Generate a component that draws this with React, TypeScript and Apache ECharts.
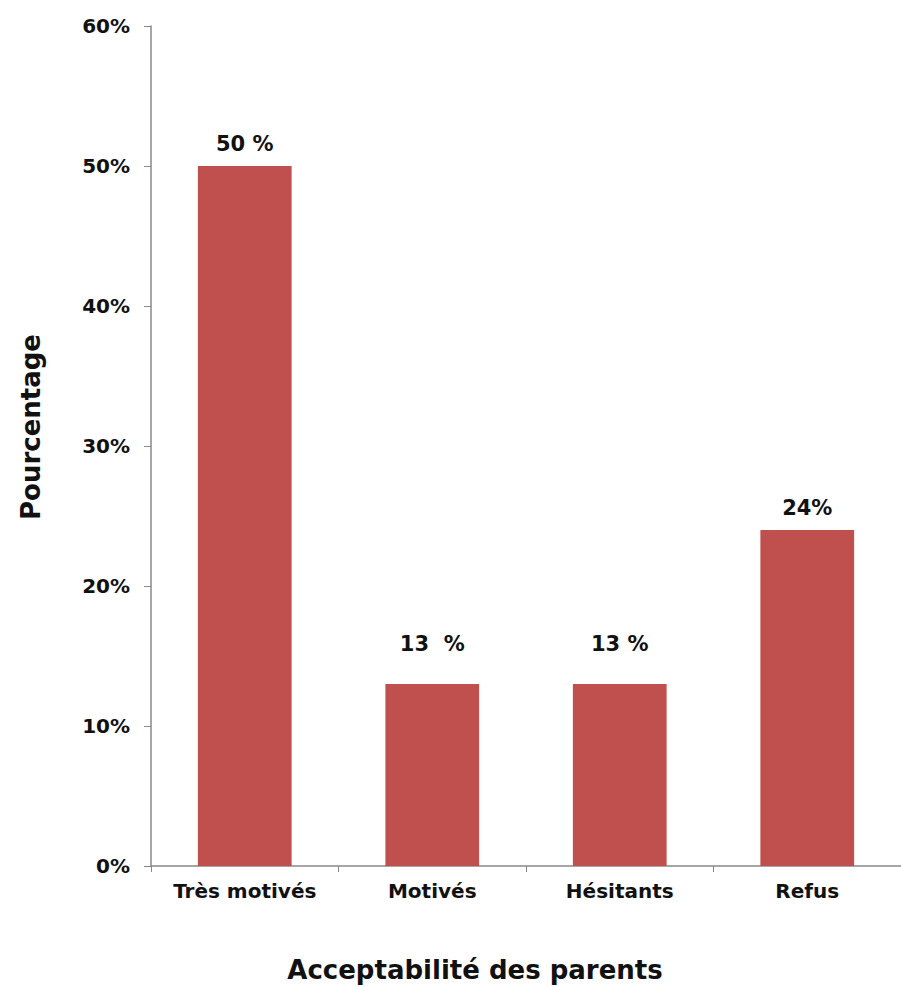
import React, { useEffect, useRef } from "react";
import * as echarts from "echarts";

const categories = ["Très motivés", "Motivés", "Hésitants", "Refus"];
const values = [50, 13, 13, 24];
const valueLabels = ["50 %", "13  %", "13 %", "24%"];
const labelOffsets = [0, -18, -18, 0];
const yTicks = { min: 0, max: 60, interval: 10 };
const xTitle = "Acceptabilité des parents";
const yTitle = "Pourcentage";

const FONT = "DejaVu Sans";

export default function App() {
  const ref = useRef<HTMLDivElement>(null);
  useEffect(() => {
    if (!ref.current) return;
    const chart = echarts.init(ref.current, undefined, { renderer: "svg" });
    chart.setOption({
      animation: false,
      backgroundColor: "#ffffff",
      grid: { left: 151, top: 26, width: 758, height: 840, containLabel: false },
      xAxis: {
        type: "category",
        data: categories,
        axisLine: { show: true, lineStyle: { color: "#888888", width: 1.5 } },
        axisTick: { show: true, length: 6, interval: 0, lineStyle: { color: "#888888" } },
        axisLabel: {
          interval: 0,
          hideOverlap: false,
          margin: 15,
          color: "#111111",
          fontFamily: FONT,
          fontWeight: "bold",
          fontSize: 20,
        },
        splitLine: { show: false },
      },
      yAxis: {
        type: "value",
        min: yTicks.min,
        max: yTicks.max,
        interval: yTicks.interval,
        axisLine: { show: true, lineStyle: { color: "#888888", width: 1.5 } },
        axisTick: { show: true, length: 7, lineStyle: { color: "#888888" } },
        axisLabel: {
          formatter: "{value}%",
          margin: 21,
          color: "#111111",
          fontFamily: FONT,
          fontWeight: "bold",
          fontSize: 20,
        },
        splitLine: { show: false },
      },
      series: [
        {
          type: "bar",
          barWidth: "50%",
          data: values.map((v, i) => ({
            value: v,
            label: {
              show: true,
              position: "top",
              distance: 12,
              offset: [0, labelOffsets[i]],
              formatter: () => valueLabels[i],
            },
          })),
          itemStyle: { color: "#C0504D" },
          label: {
            show: true,
            color: "#111111",
            fontFamily: FONT,
            fontWeight: "bold",
            fontSize: 21,
          },
        },
      ],
      graphic: [
        {
          type: "text",
          x: 475,
          y: 970,
          style: {
            text: xTitle,
            fill: "#111111",
            font: `bold 26px "${FONT}"`,
            align: "center",
            verticalAlign: "middle",
          },
        },
        {
          type: "text",
          x: 31,
          y: 427,
          rotation: Math.PI / 2,
          style: {
            text: yTitle,
            fill: "#111111",
            font: `bold 26px "${FONT}"`,
            align: "center",
            verticalAlign: "middle",
          },
        },
      ],
    });
    return () => chart.dispose();
  }, []);
  return (
    <div
      ref={ref}
      style={{ position: "fixed", left: 0, top: 0, width: 901, height: 987 }}
    />
  );
}
